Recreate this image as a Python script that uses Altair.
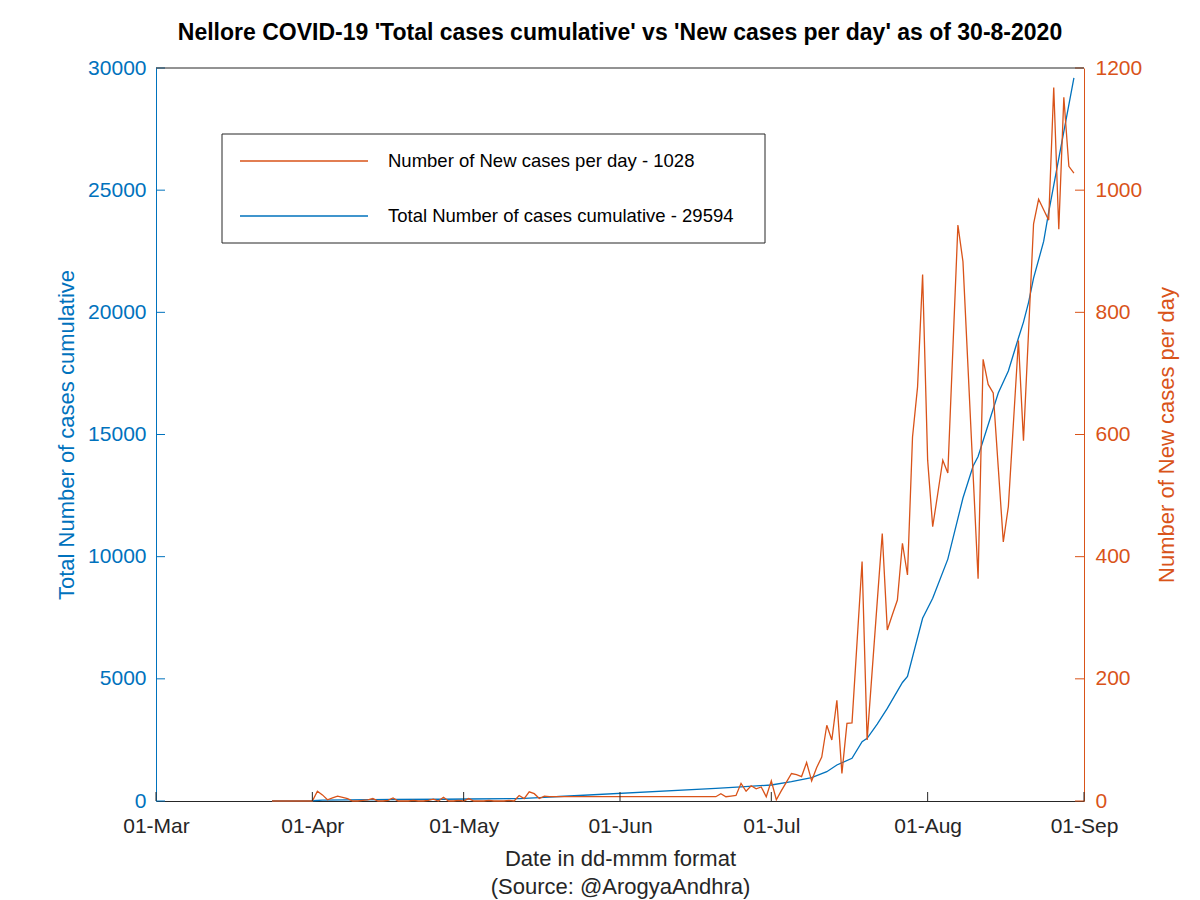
import altair as alt
import pandas as pd

BLUE = "#0072BD"
ORANGE = "#D95319"
DARK = "#262626"
FONT = "Liberation Sans"

W, H = 928, 733

# ---------------- data ----------------
# daily new cases, first block starts 24-Mar-2020 (one value per day)
new_start_1 = "2020-03-24"
new_cases_1 = [0, 0, 0, 0, 0, 0, 0, 0, 0,
               16, 10, 2, 5, 8, 6, 4, 0, 0, 1,
               2, 4, 0, 0, 1, 5, 0, 0, 0, 1,
               0, 0, 1, 3, 0, 6, 0, 0, 1, 0,
               4, 0, 0, 0, 1, 0, 0, 0, 1, 0,
               9, 4, 15, 12, 4, 8, 7]
# second block starts 20-Jun-2020 (one value per day)
new_start_2 = "2020-06-20"
new_cases_2 = [7, 12, 7, 8, 9, 29, 16, 25, 20, 23, 7, 33,
               2, 17, 31, 45, 43, 40, 63, 33, 55, 72,
               124, 100, 165, 45, 127, 128, 260, 392, 100, 213,
               326, 438, 280, 305, 329, 422, 370, 596, 678, 862,
               558, 449, 503, 558, 537, 740, 943, 883, 710, 537,
               364, 723, 682, 668, 546, 424, 482, 618, 754, 590,
               767, 945, 985, 968, 951, 1168, 936, 1152, 1039, 1028]

cum_dates = ["2020-03-24", "2020-04-01", "2020-04-03", "2020-04-08", "2020-04-17",
             "2020-04-27", "2020-05-02", "2020-05-12", "2020-05-15", "2020-05-18",
             "2020-05-20", "2020-06-20", "2020-06-25", "2020-07-01", "2020-07-05",
             "2020-07-09", "2020-07-12", "2020-07-14", "2020-07-17", "2020-07-19",
             "2020-07-20", "2020-07-22", "2020-07-24", "2020-07-27", "2020-07-28",
             "2020-07-31", "2020-08-02", "2020-08-05", "2020-08-08", "2020-08-10",
             "2020-08-11", "2020-08-15", "2020-08-17", "2020-08-19", "2020-08-20",
             "2020-08-21", "2020-08-22", "2020-08-24", "2020-08-25", "2020-08-30"]
cum_values = [1, 10, 35, 50, 62,
              72, 82, 100, 125, 160,
              185, 520, 580, 655, 790,
              954, 1200, 1473, 1748, 2427,
              2566, 3150, 3790, 4850, 5100,
              7478, 8300, 9900, 12400, 13700,
              14100, 16700, 17600, 18950, 19600,
              20400, 21400, 22900, 24100, 29594]

month_ticks = ["2020-03-01", "2020-04-01", "2020-05-01", "2020-06-01",
               "2020-07-01", "2020-08-01", "2020-09-01"]
left_ticks = [0, 5000, 10000, 15000, 20000, 25000, 30000]
right_ticks = [0, 200, 400, 600, 800, 1000, 1200]

title_text = "Nellore COVID-19 'Total cases cumulative' vs 'New cases per day' as of 30-8-2020"
x_title = ["Date in dd-mmm format", "(Source: @ArogyaAndhra)"]
left_title = "Total Number of cases cumulative"
right_title = "Number of New cases per day"
legend_new = f"Number of New cases per day - {new_cases_2[-1]}"
legend_cum = f"Total Number of cases cumulative - {cum_values[-1]}"

# ---------------- tables ----------------
new_dates = (list(pd.date_range(new_start_1, periods=len(new_cases_1), freq="D").strftime("%Y-%m-%d"))
             + list(pd.date_range(new_start_2, periods=len(new_cases_2), freq="D").strftime("%Y-%m-%d")))
new_df = pd.DataFrame({"date": new_dates, "cases": new_cases_1 + new_cases_2})
cum_df = pd.DataFrame({"date": cum_dates, "cases": cum_values})
xt_df = pd.DataFrame({"date": month_ticks})
lt_df = pd.DataFrame({"v": left_ticks})
rt_df = pd.DataFrame({"v": right_ticks})
one = pd.DataFrame({"k": [0]})


def dt(s):
    y, m, d = map(int, s.split("-"))
    return alt.DateTime(year=y, month=m, date=d, utc=True)


x_scale = alt.Scale(type="utc", domain=[dt(month_ticks[0]), dt(month_ticks[-1])])
left_scale = alt.Scale(domain=[left_ticks[0], left_ticks[-1]], nice=False)
right_scale = alt.Scale(domain=[right_ticks[0], right_ticks[-1]], nice=False)

x_axis = alt.Axis(values=[dt(s) for s in month_ticks],
                  labelExpr="utcFormat(datum.value, '%d-%b')",
                  labelFont=FONT, labelFontSize=21, labelColor=DARK, labelPadding=14,
                  labelFlush=False, labelOverlap=False, ticks=False,
                  domainColor=DARK, domainWidth=1.2, grid=False,
                  title=x_title, titleFont=FONT, titleFontSize=22, titleFontWeight="normal",
                  titleColor=DARK, titleBaseline="top", titleY=47, titleLineHeight=28)

left_axis = alt.Axis(orient="left", values=left_ticks, format="d",
                     labelFont=FONT, labelFontSize=21, labelColor=BLUE, labelPadding=10,
                     ticks=False, domainColor=BLUE, domainWidth=1, grid=False,
                     title=left_title, titleFont=FONT, titleFontSize=22, titleFontWeight="normal",
                     titleColor=BLUE, titleAngle=270, titleX=-90, titleY=H / 2,
                     titleBaseline="middle", titleAlign="center")

right_axis = alt.Axis(orient="right", values=right_ticks, format="d",
                      labelFont=FONT, labelFontSize=21, labelColor=ORANGE, labelPadding=11,
                      ticks=False, domainColor=ORANGE, domainWidth=1, grid=False,
                      title=right_title, titleFont=FONT, titleFontSize=22, titleFontWeight="normal",
                      titleColor=ORANGE, titleAngle=270, titleX=82, titleY=H / 2,
                      titleBaseline="middle", titleAlign="center")

# the same x encoding (and axis) for every layer that uses the shared date scale
x_enc = alt.X("date:T", scale=x_scale, axis=x_axis)

cum_line = alt.Chart(cum_df).mark_line(color=BLUE, strokeWidth=1.3).encode(
    x=x_enc,
    y=alt.Y("cases:Q", scale=left_scale, axis=left_axis),
)
left_tick_rules = alt.Chart(lt_df).mark_rule(color=BLUE, strokeWidth=1).encode(
    y=alt.Y("v:Q", scale=left_scale, axis=None),
    x=alt.value(0), x2=alt.value(9),
)

new_line = alt.Chart(new_df).mark_line(color=ORANGE, strokeWidth=1.3).encode(
    x=x_enc,
    y=alt.Y("cases:Q", scale=right_scale, axis=right_axis),
)
right_tick_rules = alt.Chart(rt_df).mark_rule(color=ORANGE, strokeWidth=1).encode(
    y=alt.Y("v:Q", scale=right_scale, axis=None),
    x=alt.value(W - 9), x2=alt.value(W),
)

x_tick_rules = alt.Chart(xt_df).mark_rule(color=DARK, strokeWidth=1).encode(
    x=x_enc,
    y=alt.value(H), y2=alt.value(H - 9),
)
top_border = alt.Chart(one).mark_rule(color=DARK, strokeWidth=1).encode(
    x=alt.value(0), x2=alt.value(W), y=alt.value(0)
)

legend_box = alt.Chart(one).mark_rect(fill="white", stroke=DARK, strokeWidth=1).encode(
    x=alt.value(66), x2=alt.value(609), y=alt.value(66), y2=alt.value(175)
)
legend_line_new = alt.Chart(one).mark_rule(color=ORANGE, strokeWidth=1.3).encode(
    x=alt.value(84), x2=alt.value(212), y=alt.value(93)
)
legend_line_cum = alt.Chart(one).mark_rule(color=BLUE, strokeWidth=1.3).encode(
    x=alt.value(84), x2=alt.value(212), y=alt.value(148)
)
legend_text_new = alt.Chart(one).mark_text(
    text=legend_new, align="left", baseline="middle", font=FONT, fontSize=18.5, color="black"
).encode(x=alt.value(232), y=alt.value(93))
legend_text_cum = alt.Chart(one).mark_text(
    text=legend_cum, align="left", baseline="middle", font=FONT, fontSize=18.5, color="black"
).encode(x=alt.value(232), y=alt.value(148))

chart = alt.layer(
    cum_line, new_line, left_tick_rules, right_tick_rules,
    x_tick_rules, top_border,
    legend_box, legend_line_new, legend_line_cum, legend_text_new, legend_text_cum,
).resolve_scale(y="independent").properties(
    width=W, height=H,
    title=alt.TitleParams(text=title_text, font=FONT, fontSize=23, fontWeight="bold",
                          color="black", anchor="middle", frame="group", offset=-11,
                          baseline="bottom"),
    padding={"left": 148, "top": 60, "right": 100, "bottom": 100},
    autosize=alt.AutoSizeParams(type="none"),
    background="white",
).configure_view(strokeWidth=0)

chart.save("out.html", embed_options={"renderer": "svg", "actions": False})
